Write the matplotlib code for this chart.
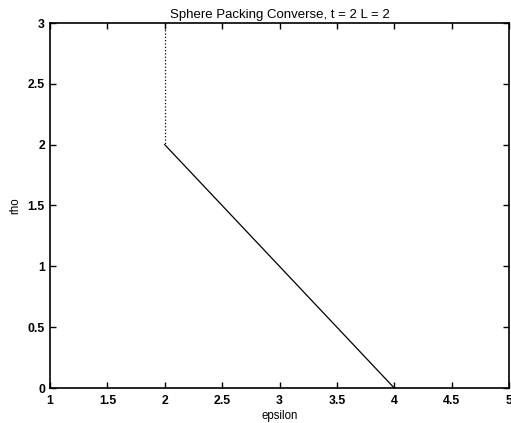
import matplotlib
matplotlib.use("Agg")
import matplotlib.pyplot as plt

plt.rcParams['font.family'] = ['Liberation Sans', 'DejaVu Sans']

# Data
vert_eps = [2, 2]
vert_rho = [3, 2]
diag_eps = [2, 4]
diag_rho = [2, 0]
floor_eps = [4, 5]
floor_rho = [0, 0]
xticks = [1, 1.5, 2, 2.5, 3, 3.5, 4, 4.5, 5]
xticklabels = ['1', '1.5', '2', '2.5', '3', '3.5', '4', '4.5', '5']
yticks = [0, 0.5, 1, 1.5, 2, 2.5, 3]
yticklabels = ['0', '0.5', '1', '1.5', '2', '2.5', '3']

fig = plt.figure(figsize=(5.11, 4.23), dpi=100)
ax = fig.add_axes([50/511, 35/423, 459/511, 365/423])

ax.plot(vert_eps, vert_rho, color='black', linestyle=':', linewidth=0.9)
ax.plot(diag_eps, diag_rho, color='black', linestyle='-', linewidth=0.9)
ax.plot(floor_eps, floor_rho, color='black', linestyle=':', linewidth=0.9)

ax.set_xlim(1, 5)
ax.set_ylim(0, 3)
ax.set_xticks(xticks)
ax.set_xticklabels(xticklabels, fontsize=8.8, fontweight='bold')
ax.set_yticks(yticks)
ax.set_yticklabels(yticklabels, fontsize=8.8, fontweight='bold')
ax.tick_params(direction='in', length=4, width=1, top=True, right=True)
ax.tick_params(axis='x', pad=5.2)
ax.tick_params(axis='y', pad=3.6)
for s in ax.spines.values():
    s.set_linewidth(1.2)

ax.set_title('Sphere Packing Converse, t = 2 L = 2', fontsize=9.5, pad=3.6)
ax.set_xlabel('epsilon', fontsize=8.3, labelpad=2.0)
ax.set_ylabel('rho', fontsize=8.3, labelpad=5.0)

fig.savefig('out.png', dpi=100)
